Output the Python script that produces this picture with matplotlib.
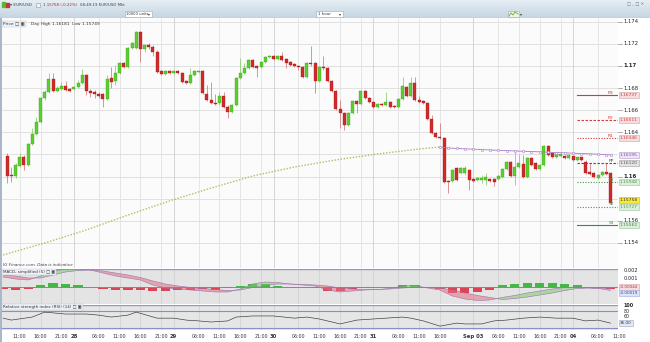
import matplotlib
matplotlib.use("Agg")
import matplotlib.pyplot as plt
import numpy as np
import matplotlib.transforms as mtransforms
from matplotlib.patches import Rectangle

# ---------------- data ----------------
opens = [1.16186, 1.16014, 1.16005, 1.16095, 1.16177, 1.16104, 1.16294, 1.16385, 1.16493, 1.16710,
         1.16764, 1.16882, 1.16773, 1.16791, 1.16819, 1.16791, 1.16791, 1.16810, 1.16846, 1.16918,
         1.16773, 1.16764, 1.16746, 1.16746, 1.16701, 1.16891, 1.16864, 1.16936, 1.17027, 1.16990,
         1.17162, 1.17162, 1.17307, 1.17153, 1.17189, 1.17171, 1.17126, 1.16954, 1.16927, 1.16954,
         1.16936, 1.16954, 1.16936, 1.16864, 1.16846, 1.16918, 1.16945, 1.16954, 1.16746, 1.16692,
         1.16665, 1.16665, 1.16728, 1.16629, 1.16584, 1.16647, 1.16891, 1.16936, 1.16981, 1.17054,
         1.16999, 1.16990, 1.17036, 1.17081, 1.17090, 1.17063, 1.17090, 1.17063, 1.17036, 1.17017,
         1.16999, 1.16990, 1.16900, 1.17027, 1.17027, 1.16864, 1.16990, 1.16981, 1.16864, 1.16773,
         1.16611, 1.16575, 1.16466, 1.16575, 1.16683, 1.16656, 1.16773, 1.16710, 1.16674, 1.16629,
         1.16656, 1.16647, 1.16674, 1.16638, 1.16629, 1.16701, 1.16810, 1.16728, 1.16846, 1.16692,
         1.16683, 1.16665, 1.16520, 1.16394, 1.16358, 1.16349, 1.15960, 1.15960, 1.16077, 1.16032,
         1.16032, 1.16059, 1.15978, 1.15969, 1.15969, 1.15969, 1.15978, 1.15978, 1.15978, 1.15996,
         1.16068, 1.16132, 1.16005, 1.16086, 1.16113, 1.15996, 1.16168, 1.16123, 1.16068, 1.16104,
         1.16276, 1.16213, 1.16177, 1.16186, 1.16186, 1.16168, 1.16186, 1.16150, 1.16177, 1.16132,
         1.16041, 1.16032, 1.15987, 1.16014, 1.16041, 1.16032]
highs = [1.16213, 1.16086, 1.16123, 1.16213, 1.16195, 1.16303, 1.16439, 1.16538, 1.16719, 1.16782,
         1.16936, 1.16936, 1.16819, 1.16855, 1.16864, 1.16800, 1.16819, 1.16873, 1.16972, 1.16927,
         1.16791, 1.16782, 1.16764, 1.16755, 1.16918, 1.16990, 1.17008, 1.17036, 1.17036, 1.17171,
         1.17216, 1.17316, 1.17316, 1.17198, 1.17207, 1.17189, 1.17144, 1.16963, 1.16963, 1.16963,
         1.16963, 1.16963, 1.16945, 1.16873, 1.16981, 1.16963, 1.16963, 1.16963, 1.16828, 1.16855,
         1.16746, 1.16764, 1.16764, 1.16647, 1.16656, 1.16900, 1.17072, 1.17027, 1.17063, 1.17063,
         1.17008, 1.17045, 1.17090, 1.17099, 1.17099, 1.17099, 1.17126, 1.17072, 1.17045, 1.17027,
         1.17008, 1.16999, 1.17036, 1.17180, 1.17036, 1.16999, 1.17090, 1.16990, 1.16873, 1.16782,
         1.16692, 1.16584, 1.16584, 1.16692, 1.16692, 1.16782, 1.16782, 1.16719, 1.16683, 1.16665,
         1.16665, 1.16764, 1.16683, 1.16647, 1.16710, 1.16900, 1.16819, 1.16900, 1.16900, 1.16728,
         1.16692, 1.16674, 1.16556, 1.16403, 1.16484, 1.16358, 1.15969, 1.16068, 1.16086, 1.16086,
         1.16095, 1.16068, 1.15987, 1.15996, 1.16014, 1.16032, 1.15987, 1.15987, 1.16014, 1.16077,
         1.16141, 1.16141, 1.16222, 1.16204, 1.16195, 1.16177, 1.16177, 1.16132, 1.16113, 1.16285,
         1.16285, 1.16222, 1.16213, 1.16213, 1.16195, 1.16204, 1.16181, 1.16177, 1.16177, 1.16150,
         1.16123, 1.16041, 1.16023, 1.16050, 1.16123, 1.16041]
lows = [1.15942, 1.15951, 1.15987, 1.16086, 1.16059, 1.16095, 1.16285, 1.16376, 1.16484, 1.16692,
        1.16755, 1.16764, 1.16764, 1.16782, 1.16773, 1.16764, 1.16782, 1.16800, 1.16837, 1.16737,
        1.16719, 1.16710, 1.16710, 1.16629, 1.16692, 1.16800, 1.16828, 1.16927, 1.16981, 1.16981,
        1.17153, 1.17153, 1.17036, 1.17126, 1.17153, 1.17090, 1.16936, 1.16918, 1.16918, 1.16927,
        1.16927, 1.16927, 1.16846, 1.16837, 1.16837, 1.16909, 1.16936, 1.16746, 1.16683, 1.16656,
        1.16647, 1.16647, 1.16620, 1.16529, 1.16575, 1.16638, 1.16882, 1.16927, 1.16972, 1.16981,
        1.16900, 1.16981, 1.17027, 1.17072, 1.17054, 1.17054, 1.17045, 1.16981, 1.16999, 1.16990,
        1.16963, 1.16891, 1.16891, 1.16999, 1.16755, 1.16855, 1.16963, 1.16855, 1.16764, 1.16602,
        1.16439, 1.16421, 1.16457, 1.16566, 1.16575, 1.16647, 1.16701, 1.16665, 1.16620, 1.16620,
        1.16638, 1.16638, 1.16620, 1.16620, 1.16620, 1.16692, 1.16719, 1.16719, 1.16683, 1.16665,
        1.16656, 1.16511, 1.16385, 1.16349, 1.16339, 1.15942, 1.15851, 1.15951, 1.15960, 1.16023,
        1.16014, 1.15878, 1.15951, 1.15960, 1.15942, 1.15924, 1.15951, 1.15915, 1.15969, 1.15987,
        1.16059, 1.15996, 1.15924, 1.16077, 1.15987, 1.15987, 1.16095, 1.16059, 1.16059, 1.16095,
        1.16186, 1.16168, 1.16168, 1.16177, 1.16159, 1.16159, 1.16141, 1.16141, 1.16141, 1.16023,
        1.16014, 1.15987, 1.15978, 1.16005, 1.16014, 1.15749]
closes = [1.16005, 1.16005, 1.16104, 1.16177, 1.16104, 1.16294, 1.16385, 1.16493, 1.16710, 1.16764,
          1.16882, 1.16773, 1.16800, 1.16819, 1.16782, 1.16773, 1.16810, 1.16846, 1.16918, 1.16773,
          1.16755, 1.16746, 1.16728, 1.16701, 1.16882, 1.16855, 1.16936, 1.17027, 1.16990, 1.17162,
          1.17207, 1.17307, 1.17153, 1.17189, 1.17171, 1.17126, 1.16945, 1.16927, 1.16954, 1.16936,
          1.16954, 1.16936, 1.16855, 1.16846, 1.16918, 1.16954, 1.16954, 1.16755, 1.16692, 1.16665,
          1.16656, 1.16728, 1.16629, 1.16584, 1.16647, 1.16891, 1.16936, 1.16981, 1.17054, 1.16990,
          1.16981, 1.17036, 1.17081, 1.17090, 1.17063, 1.17090, 1.17054, 1.17027, 1.17008, 1.16999,
          1.16990, 1.16900, 1.17027, 1.17017, 1.16864, 1.16990, 1.16981, 1.16864, 1.16773, 1.16611,
          1.16575, 1.16466, 1.16575, 1.16683, 1.16656, 1.16773, 1.16710, 1.16674, 1.16629, 1.16656,
          1.16647, 1.16674, 1.16629, 1.16629, 1.16701, 1.16819, 1.16728, 1.16846, 1.16692, 1.16674,
          1.16665, 1.16520, 1.16394, 1.16358, 1.16349, 1.15951, 1.15951, 1.16059, 1.15969, 1.16077,
          1.16077, 1.15969, 1.15960, 1.15987, 1.15987, 1.15996, 1.15960, 1.15951, 1.16005, 1.16068,
          1.16132, 1.16005, 1.16086, 1.16123, 1.15996, 1.16168, 1.16104, 1.16068, 1.16104, 1.16276,
          1.16195, 1.16177, 1.16204, 1.16204, 1.16168, 1.16195, 1.16150, 1.16177, 1.16150, 1.16032,
          1.16023, 1.15996, 1.16014, 1.16041, 1.16023, 1.15758]

ma_idx = [0, 10, 20, 30, 40, 50, 60, 70, 80, 90, 100, 105]
ma_val = [1.15291, 1.15399, 1.15517, 1.15652, 1.15779, 1.15896, 1.16005, 1.16086,
          1.16150, 1.16204, 1.16249, 1.16267]
ma2_idx = [105, 107, 109, 111, 113, 115, 117, 119, 121, 123, 125, 127, 129, 131, 133,
           135, 137, 139, 141, 143, 145, 146]
ma2_val = [1.16267, 1.16258, 1.16254, 1.16250, 1.16247, 1.16244, 1.16240, 1.16237,
           1.16234, 1.16231, 1.16228, 1.16226, 1.16223, 1.16220, 1.16217, 1.16214,
           1.16211, 1.16208, 1.16205, 1.16202, 1.16198, 1.16195]

pivot_names = ["R3", "R2", "R1", "PP", "S1", "S2", "S3"]
pivot_levels = [1.16737, 1.16511, 1.16346, 1.16120, 1.15948, 1.15727, 1.15562]
pivot_start = 138

price_ticks = [1.174, 1.172, 1.17, 1.168, 1.166, 1.164, 1.16, 1.156, 1.154]
price_tick_labels = ["1.174", "1.172", "1.17", "1.168", "1.166", "1.164", "1.16", "1.156", "1.154"]

time_tick_pos = [4, 9, 14, 17, 23, 28, 33, 38, 41, 47, 52, 57, 62, 65, 71, 76, 81, 86, 89,
                 95, 100, 105, 113, 119, 124, 129, 134, 137, 143, 148]
time_tick_labels = ["11:00", "16:00", "21:00", "28", "06:00", "11:00", "16:00", "21:00", "29",
                    "06:00", "11:00", "16:00", "21:00", "30", "06:00", "11:00", "16:00", "21:00",
                    "31", "06:00", "11:00", "16:00", "Sep 03", "06:00", "11:00", "16:00", "21:00",
                    "04", "06:00", "11:00"]
day_ticks = [17, 41, 65, 89, 113, 137]

# MACD values in units of 0.001
macd_idx = [0, 3, 6, 9, 12, 15, 18, 21, 24, 27, 30, 33, 36, 39, 42, 45, 48, 51, 54, 57,
            60, 63, 66, 69, 72, 75, 78, 81, 84, 87, 90, 93, 96, 99, 102, 105, 108, 111,
            114, 117, 120, 123, 126, 129, 132, 135, 138, 141, 144, 146]
macd_line = [1.25, 1.0, 0.875, 1.375, 2.0, 2.25, 2.25, 2.125, 1.75, 1.375, 1.125, 0.875,
             0.25, -0.125, -0.25, -0.375, -0.5, -0.625, -0.625, -0.25, 0.375, 0.625, 0.56,
             0.375, 0.25, 0.125, -0.375, -0.625, -0.5, -0.375, -0.31, -0.19, 0.125, 0.19,
             -0.125, -0.375, -1.125, -1.5, -1.69, -1.625, -1.3, -1.06, -0.75, -0.5, -0.25,
             -0.06, 0.0, -0.125, -0.25, -0.44]
macd_signal = [1.5, 1.375, 1.125, 1.125, 1.5, 1.875, 2.06, 2.125, 2.0, 1.75, 1.5, 1.19,
               0.75, 0.375, 0.125, -0.06, -0.19, -0.31, -0.44, -0.375, -0.06, 0.19, 0.375,
               0.375, 0.31, 0.25, 0.125, -0.125, -0.25, -0.31, -0.31, -0.25, -0.125, -0.06,
               -0.06, -0.125, -0.375, -0.75, -1.06, -1.31, -1.56, -1.44, -1.25, -1.0, -0.75,
               -0.44, -0.19, -0.125, -0.125, -0.19]

rsi_idx = [0, 2, 7, 10, 15, 20, 23, 26, 30, 32, 37, 41, 44, 47, 50, 54, 56, 60, 65, 70, 73,
           76, 81, 85, 89, 96, 98, 101, 105, 109, 111, 115, 118, 121, 125, 129, 133, 137,
           140, 143, 146]
rsi_val = [54, 47, 58, 76, 69, 69, 65, 58, 65, 76, 54, 54, 47, 44, 40, 44, 58, 62, 62, 54, 58,
           51, 33, 47, 51, 58, 54, 44, 25, 36, 33, 33, 44, 47, 54, 58, 54, 54, 44, 47, 36]

# ---------------- figure ----------------
W, H = 650, 342
fig = plt.figure(figsize=(W / 100, H / 100), dpi=100)
fig.patch.set_facecolor("#ffffff")


def box(x0, y0, x1, y1):
    return [x0 / W, 1 - y1 / H, (x1 - x0) / W, (y1 - y0) / H]


XL = (-0.27, 147.8)

# toolbar
tb = fig.add_axes(box(0, 0, 650, 18))
grad = np.linspace(0, 1, 50).reshape(-1, 1)
tb.imshow(grad, extent=(0, 650, 18, 0), aspect="auto",
          cmap=matplotlib.colors.LinearSegmentedColormap.from_list("tb", ["#e6eef4", "#c4d5e2"]))
tb.set_xlim(0, 650)
tb.set_ylim(18, 0)
tb.axis("off")
tb.add_patch(Rectangle((2, 1.5), 3, 5, color="#55bb33"))
tb.add_patch(Rectangle((5.5, 2.5), 3, 4, color="#cc3333"))
tb.text(10, 4.5, "\u25be EUR/USD", fontsize=3.0, color="#334455", va="center")
tb.add_patch(Rectangle((36, 2.5), 4, 4, fc="#f4f4f4", ec="#8899aa", lw=0.4))
tb.text(43, 4.5, "1.15758 (-0.22%)", fontsize=2.8, color="#aa2222", va="center")
tb.text(80, 4.5, "08:49:19 EUR/USD Mkt", fontsize=2.8, color="#334455", va="center")
tb.add_patch(Rectangle((125, 11), 27, 6, fc="#ffffff", ec="#9aaabb", lw=0.4))
tb.text(126.5, 14, "10000 units", fontsize=2.7, color="#333333", va="center")
tb.text(148, 14, "\u25be", fontsize=2.7, color="#333333", va="center")
tb.add_patch(Rectangle((316, 11), 27, 6, fc="#ffffff", ec="#9aaabb", lw=0.4))
tb.text(318, 14, "1 hour", fontsize=2.8, color="#333333", va="center")
tb.text(339, 14, "\u25be", fontsize=2.8, color="#333333", va="center")
tb.add_patch(Rectangle((508, 11), 11, 6, fc="#f0f4e8", ec="#9aaabb", lw=0.4))
tb.plot([509, 511, 513, 515, 518], [16, 13, 15, 12, 14], color="#66aa33", lw=0.6)
tb.text(520, 14, "\u25be", fontsize=2.8, color="#333333", va="center")
tb.text(627, 4, "\u25a1 _ \u25a1 \u2715", fontsize=3.0, color="#667788", va="center")
tb.axhline(17.6, color="#9fb2c4", lw=0.8)

# left frame strip
frame = fig.add_axes(box(0, 18, 2, 342))
frame.set_facecolor("#a9b8c6")
frame.set_xticks([])
frame.set_yticks([])
for s in frame.spines.values():
    s.set_visible(False)

# ---------------- main price panel ----------------
ax = fig.add_axes(box(2, 18, 618, 268))
ax.set_facecolor("#fbfbfb")
ax.set_xlim(*XL)
ax.set_ylim(1.15173, 1.17433)
ax.set_xticks([])
ax.set_yticks([])
for s in ax.spines.values():
    s.set_visible(False)

for p in price_ticks + [1.162, 1.158]:
    ax.axhline(p, color="#dcdcdc", lw=0.6, zorder=0)
for t in time_tick_pos:
    ax.axvline(t, color="#e2e2e2" if t not in day_ticks else "#cfcfcf", lw=0.6, zorder=0)

idx = np.arange(1, len(closes) + 1)
o = np.array(opens)
c = np.array(closes)
h = np.array(highs)
l = np.array(lows)
up = c >= o
body_low = np.minimum(o, c)
body_h = np.maximum(np.abs(c - o), 0.000025)
green, green_e = "#5ad02e", "#3c9a1c"
red, red_e = "#d22a2a", "#9a1a1a"
ax.vlines(idx[up], l[up], h[up], color="#7cc860", lw=0.5, zorder=2)
ax.vlines(idx[~up], l[~up], h[~up], color="#d06a6a", lw=0.5, zorder=2)
ax.bar(idx[up], body_h[up], bottom=body_low[up], width=0.72, color=green,
       edgecolor=green_e, linewidth=0.25, zorder=3)
ax.bar(idx[~up], body_h[~up], bottom=body_low[~up], width=0.72, color=red,
       edgecolor=red_e, linewidth=0.25, zorder=3)

# moving average
ax.plot(ma_idx, ma_val, color="#b4bc64", lw=1.0, ls=(0, (1, 1.2)), zorder=1)
ax.plot(ma2_idx, ma2_val, color="#a878c8", lw=0.6, marker="o", ms=1.6, mfc="#ffffff",
        mec="#a878c8", mew=0.4, zorder=4)

# pivot lines
piv_col = ["#d03a3a", "#d03a3a", "#d03a3a", "#555555", "#4a9a4a", "#4a9a4a", "#3a8a3a"]
piv_ls = ["-", (0, (2.2, 1.4)), (0, (1, 1.4)), (0, (2.2, 1.4)), (0, (1, 1.4)), (0, (1, 1.4)), "-"]
piv_fc = ["#f6dede"] * 3 + ["#e4e4e4"] + ["#dcefdc"] * 3
piv_ec = ["#d8a0a0"] * 3 + ["#a0a0a0"] + ["#98c498"] * 3
for name, lvl, col, ls in zip(pivot_names, pivot_levels, piv_col, piv_ls):
    ax.plot([pivot_start, XL[1]], [lvl, lvl], color=col, lw=0.8, ls=ls, zorder=2)
    ax.text(146.8, lvl + 0.00004, name, fontsize=3.2, color=col, ha="right", va="bottom")

# right-side labels
ytrans = mtransforms.blended_transform_factory(ax.transAxes, ax.transData)
for p, lab in zip(price_ticks, price_tick_labels):
    ax.plot([1.0, 1.006], [p, p], transform=ytrans, color="#888888", lw=0.5, clip_on=False)
    bold = lab in ("1.17", "1.16")
    ax.text(1.009, p, lab, transform=ytrans, fontsize=3.8, color="#222222", va="center",
            fontweight="bold" if bold else "normal")
for lvl, col, fc, ec in zip(pivot_levels, piv_col, piv_fc, piv_ec):
    ax.text(1.003, lvl, f"{lvl:.5f}", transform=ytrans, fontsize=3.2, color=col, va="center",
            bbox=dict(boxstyle="square,pad=0.25", fc=fc, ec=ec, lw=0.4))
ax.text(1.003, ma2_val[-1], f"{ma2_val[-1]:.5f}", transform=ytrans, fontsize=3.2,
        color="#7a4a9a", va="center",
        bbox=dict(boxstyle="square,pad=0.25", fc="#efe4f6", ec="#b898d0", lw=0.4))
ax.text(1.003, closes[-1] + 0.0003, f"{closes[-1]:.5f}", transform=ytrans, fontsize=3.2,
        color="#333333", va="center",
        bbox=dict(boxstyle="square,pad=0.25", fc="#f8e838", ec="#c8b820", lw=0.4))

# header inside price panel
ax.text(0.002, 0.985, "Price \u25a1 \u25a3", transform=ax.transAxes, fontsize=3.2,
        color="#333333", va="top",
        bbox=dict(boxstyle="square,pad=0.2", fc="#eef2f6", ec="#b8c4d0", lw=0.3))
ax.text(0.047, 0.985, "Day High 1.16181  Low 1.15749", transform=ax.transAxes, fontsize=3.1,
        color="#333333", va="top")
ax.text(0.002, 0.002, "IG Finance.com. Data is indicative", transform=ax.transAxes,
        fontsize=3.0, color="#444444", style="italic", va="bottom")

# ---------------- MACD panel ----------------
am = fig.add_axes(box(2, 269, 618, 304))
am.set_facecolor("#e4e4e4")
am.set_xlim(*XL)
am.set_ylim(-2.125, 2.25)
am.set_xticks([])
am.set_yticks([])
for s in am.spines.values():
    s.set_visible(False)
am.axhline(2.25, color="#8e9ac0", lw=1.0)
for t in time_tick_pos:
    am.axvline(t, color="#d2d2d2", lw=0.6, zorder=0)
mi = np.array(macd_idx)
ml = np.array(macd_line)
ms = np.array(macd_signal)
hist = ml - ms
am.bar(mi, hist, width=2.2, color=np.where(hist >= 0, "#44b844", "#dc4456"),
       edgecolor="none", zorder=1)
am.fill_between(mi, ml, ms, where=ml >= ms, interpolate=True, color="#7ccc6a", alpha=0.55,
                lw=0, zorder=2)
am.fill_between(mi, ml, ms, where=ml < ms, interpolate=True, color="#e4707e", alpha=0.55,
                lw=0, zorder=2)
am.plot(mi, ml, color="#a070b0", lw=0.4, zorder=3)
am.plot(mi, ms, color="#9a70b0", lw=0.4, zorder=3)
am.axhline(0, color="#8080c0", lw=0.7, zorder=3)
am.text(0.002, 0.97, "MACD, simplified (5) \u25a1 \u25a3", transform=am.transAxes,
        fontsize=3.0, color="#333333", va="top", zorder=5,
        bbox=dict(boxstyle="square,pad=0.2", fc="#eef2f6", ec="#b8c4d0", lw=0.3))
mtr = mtransforms.blended_transform_factory(am.transAxes, am.transData)
for v, lab in [(2, "0.002"), (1, "0.001")]:
    am.text(1.009, v, lab, transform=mtr, fontsize=3.6, color="#222222", va="center")
am.text(1.003, 0.0, f"{ml[-1] * 0.001:.5f}", transform=mtr, fontsize=3.0,
        color="#aa3344", va="center",
        bbox=dict(boxstyle="square,pad=0.25", fc="#f6dede", ec="#d8a0a0", lw=0.4))
am.text(1.003, -0.75, f"{ms[-1] * 0.001:.5f}", transform=mtr, fontsize=3.0,
        color="#3344aa", va="center",
        bbox=dict(boxstyle="square,pad=0.25", fc="#dde4f6", ec="#a0a8d8", lw=0.4))

# ---------------- RSI panel ----------------
ar = fig.add_axes(box(2, 305, 618, 330))
ar.set_facecolor("#e6e6e6")
ar.set_xlim(*XL)
ar.set_ylim(11, 101.8)
ar.set_xticks([])
ar.set_yticks([])
for s in ar.spines.values():
    s.set_visible(False)
ar.axhline(101.8, color="#8e9ac0", lw=1.0)
for t in time_tick_pos:
    ar.axvline(t, color="#d2d2d2", lw=0.6, zorder=0)
ar.axhline(80, color="#8a8fcc", lw=0.8)
ar.axhline(20, color="#8a8fcc", lw=0.8)
ar.plot(rsi_idx, rsi_val, color="#333333", lw=0.45)
ar.text(0.002, 0.99, "Relative strength index (RSI) (14) \u25a1 \u25a3", transform=ar.transAxes,
        fontsize=3.0, color="#333333", va="top",
        bbox=dict(boxstyle="square,pad=0.2", fc="#eef2f6", ec="#b8c4d0", lw=0.3))
rtr = mtransforms.blended_transform_factory(ar.transAxes, ar.transData)
for v in [100, 80, 60]:
    ar.text(1.009, v, str(v), transform=rtr, fontsize=3.4, color="#222222", va="center",
            fontweight="bold" if v == 100 else "normal")
ar.text(1.003, rsi_val[-1], f"{rsi_val[-1]:.2f}", transform=rtr, fontsize=3.0,
        color="#333333", va="center",
        bbox=dict(boxstyle="square,pad=0.25", fc="#e4e8f4", ec="#9aa4c8", lw=0.4))

# ---------------- time axis ----------------
ax_t = fig.add_axes(box(2, 330, 618, 342))
ax_t.set_facecolor("#ffffff")
ax_t.set_xlim(*XL)
ax_t.set_ylim(0, 1)
ax_t.axis("off")
for t, lab in zip(time_tick_pos, time_tick_labels):
    bold = t in day_ticks
    ax_t.text(t, 0.45, lab, fontsize=3.4 if not bold else 3.8, color="#333333",
              ha="center", va="center", fontweight="bold" if bold else "normal",
              clip_on=False)

fig.savefig("out.png", dpi=100, facecolor=fig.get_facecolor())
